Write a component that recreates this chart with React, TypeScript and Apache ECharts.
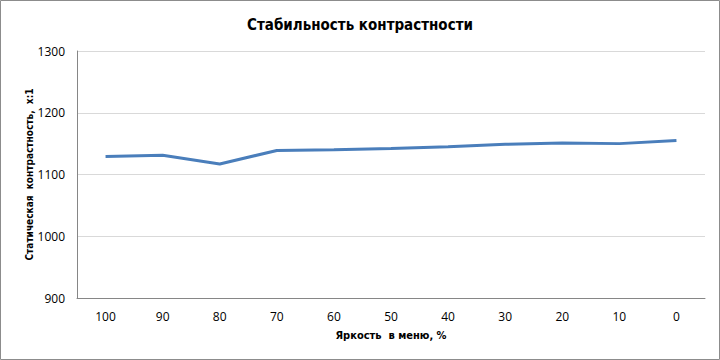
import React, { useEffect, useRef } from "react";
import * as echarts from "echarts";

const categories = ["100", "90", "80", "70", "60", "50", "40", "30", "20", "10", "0"];
const contrastValues = [1129, 1131, 1117, 1139, 1140, 1142, 1145, 1149, 1151, 1150, 1155];
const yTicks = { min: 900, max: 1300, interval: 100 };

const narrow = "'DejaVu Sans Condensed', 'Open Sans', sans-serif";

export default function App() {
  const ref = useRef<HTMLDivElement>(null);
  useEffect(() => {
    if (!ref.current) return;
    const chart = echarts.init(ref.current, null, { renderer: "svg" });
    chart.setOption({
      animation: false,
      backgroundColor: "#ffffff",
      title: {
        text: "Стабильность контрастности",
        left: "center",
        top: 12,
        textStyle: { fontFamily: narrow, fontWeight: "bold", fontSize: 15, color: "#000" },
      },
      graphic: [
        {
          type: "rect",
          shape: { x: 0.5, y: 0.5, width: 719, height: 359 },
          style: { fill: "none", stroke: "#8c8c8c", lineWidth: 1 },
          silent: true,
        },
      ],
      grid: { left: 77, right: 15, top: 51, bottom: 62 },
      xAxis: {
        type: "category",
        data: categories,
        boundaryGap: true,
        name: "Яркость  в меню, %",
        nameLocation: "middle",
        nameGap: 32,
        nameTextStyle: { fontFamily: narrow, fontWeight: "bold", fontSize: 11, color: "#000" },
        axisLine: { lineStyle: { color: "#868686", width: 1 } },
        axisTick: { show: false },
        axisLabel: { fontFamily: "Open Sans", fontSize: 12, color: "#000", margin: 12 },
      },
      yAxis: {
        type: "value",
        min: yTicks.min,
        max: yTicks.max,
        interval: yTicks.interval,
        name: "Статическая  контрастность,  х:1",
        nameLocation: "middle",
        nameGap: 43,
        nameMoveOverlap: false,
        nameTextStyle: { fontFamily: narrow, fontWeight: "bold", fontSize: 10, color: "#000" },
        axisLine: { show: true, lineStyle: { color: "#868686", width: 1 } },
        axisTick: { show: false },
        axisLabel: {
          fontFamily: "Open Sans",
          fontSize: 12,
          color: "#000",
          margin: 12,
          formatter: (v: number) => String(v),
        },
        splitLine: { lineStyle: { color: "#d9d9d9", width: 1 } },
      },
      series: [
        {
          type: "line",
          data: contrastValues,
          symbol: "none",
          lineStyle: { color: "#4a7ebb", width: 3 },
          itemStyle: { color: "#4a7ebb" },
        },
      ],
    });
    return () => chart.dispose();
  }, []);
  return (
    <div
      ref={ref}
      style={{ position: "fixed", left: 0, top: 0, width: 720, height: 360 }}
    />
  );
}
